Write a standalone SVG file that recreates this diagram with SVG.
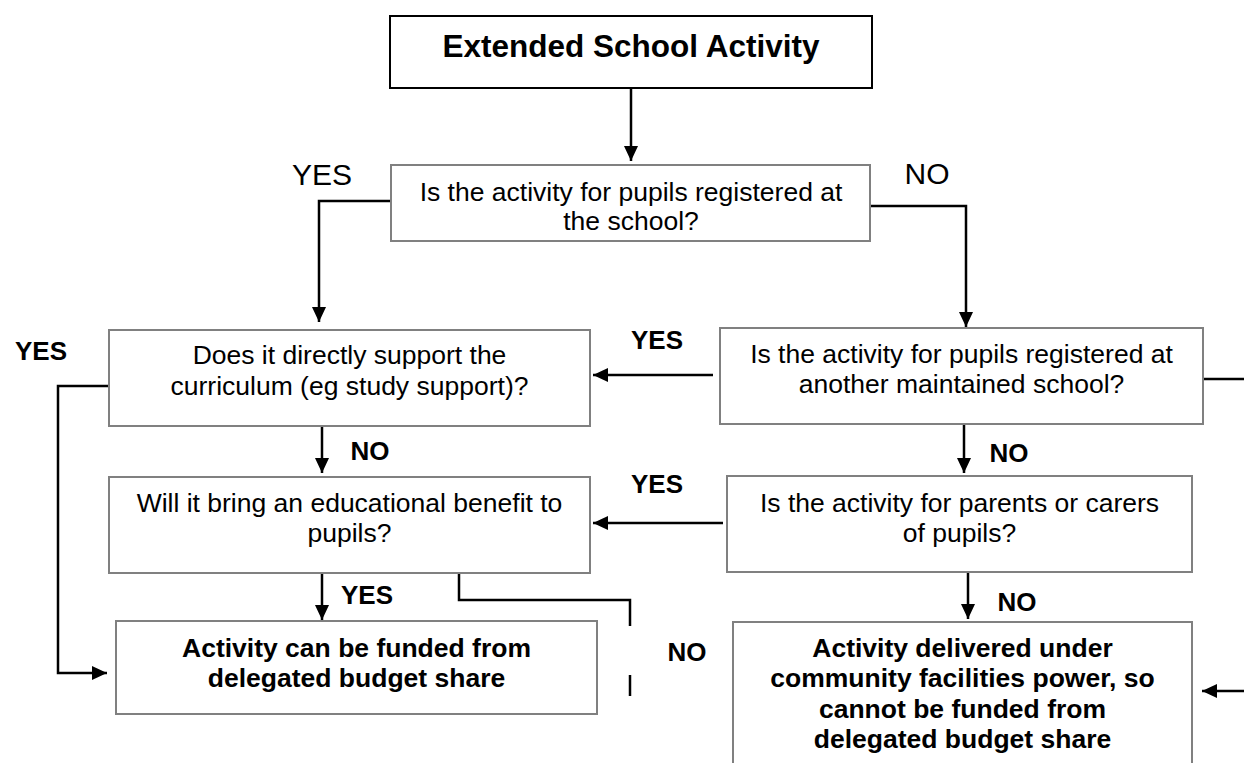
<svg xmlns="http://www.w3.org/2000/svg" width="1244" height="763" viewBox="0 0 1244 763">
<style>
.box{fill:#fff;stroke:#808080;stroke-width:2}
.top{fill:#fff;stroke:#000;stroke-width:2}
.q{font-family:"Liberation Sans",Arial,sans-serif;font-size:26.5px;fill:#000;text-anchor:middle}
.b{font-family:"Liberation Sans",Arial,sans-serif;font-size:26.5px;font-weight:bold;fill:#000;text-anchor:middle}
.t{font-family:"Liberation Sans",Arial,sans-serif;font-size:31.5px;font-weight:bold;fill:#000;text-anchor:middle}
.lr{font-family:"Liberation Sans",Arial,sans-serif;font-size:30px;fill:#000;text-anchor:middle}
.lb{font-family:"Liberation Sans",Arial,sans-serif;font-size:26px;font-weight:bold;fill:#000;text-anchor:middle}
.c{fill:none;stroke:#000;stroke-width:2.5}
</style>
<defs>
<marker id="ah" markerUnits="userSpaceOnUse" markerWidth="16" markerHeight="16" refX="15" refY="7" orient="auto">
<path d="M0,0 L15,7 L0,14 z" fill="#000"/>
</marker>
</defs>
<g id="connectors">
<line class="c" x1="631" y1="89" x2="631" y2="161" marker-end="url(#ah)"/>
<path class="c" d="M390,201 H319 V322" marker-end="url(#ah)"/>
<path class="c" d="M870,206 H966 V327" marker-end="url(#ah)"/>
<line class="c" x1="713" y1="375" x2="593" y2="375" marker-end="url(#ah)"/>
<line class="c" x1="1203" y1="379" x2="1244" y2="379"/>
<path class="c" d="M109,386 H58 V673 H107" marker-end="url(#ah)"/>
<line class="c" x1="322" y1="426" x2="322" y2="473" marker-end="url(#ah)"/>
<line class="c" x1="964" y1="424" x2="964" y2="473" marker-end="url(#ah)"/>
<line class="c" x1="723" y1="523" x2="593" y2="523" marker-end="url(#ah)"/>
<line class="c" x1="322" y1="573" x2="322" y2="620" marker-end="url(#ah)"/>
<path class="c" d="M459,573 V600 H630 V626"/>
<line class="c" x1="630" y1="675" x2="630" y2="696"/>
<line class="c" x1="968" y1="572" x2="968" y2="619" marker-end="url(#ah)"/>
<line class="c" x1="1244" y1="691" x2="1202" y2="691" marker-end="url(#ah)"/>
<text class="lr" x="322" y="185">YES</text>
<text class="lr" x="927" y="184">NO</text>
<text class="lb" x="41" y="360">YES</text>
<text class="lb" x="657" y="349">YES</text>
<text class="lb" x="370" y="460">NO</text>
<text class="lb" x="1009" y="462">NO</text>
<text class="lb" x="657" y="493">YES</text>
<text class="lb" x="367" y="604">YES</text>
<text class="lb" x="1017" y="611">NO</text>
<text class="lb" x="687" y="661">NO</text>
</g>
<g id="n-start">
<rect class="top" x="390" y="16" width="482" height="72"/>
<text class="t" x="631" y="57">Extended School Activity</text>
</g>
<g id="n-registered">
<rect class="box" x="391" y="165" width="479" height="76"/>
<text class="q" x="631" y="201">Is the activity for pupils registered at</text>
<text class="q" x="631" y="230">the school?</text>
</g>
<g id="n-curriculum">
<rect class="box" x="109" y="330" width="481" height="96"/>
<text class="q" x="349.5" y="364">Does it directly support the</text>
<text class="q" x="349.5" y="395">curriculum (eg study support)?</text>
</g>
<g id="n-another">
<rect class="box" x="720" y="328" width="483" height="96"/>
<text class="q" x="961.5" y="363">Is the activity for pupils registered at</text>
<text class="q" x="961.5" y="393">another maintained school?</text>
</g>
<g id="n-benefit">
<rect class="box" x="109" y="477" width="481" height="96"/>
<text class="q" x="349.5" y="512">Will it bring an educational benefit to</text>
<text class="q" x="349.5" y="542">pupils?</text>
</g>
<g id="n-parents">
<rect class="box" x="727" y="476" width="465" height="96"/>
<text class="q" x="959.5" y="512">Is the activity for parents or carers</text>
<text class="q" x="959.5" y="542">of pupils?</text>
</g>
<g id="n-funded">
<rect class="box" x="116" y="621" width="481" height="93"/>
<text class="b" x="356.5" y="657">Activity can be funded from</text>
<text class="b" x="356.5" y="687">delegated budget share</text>
</g>
<g id="n-community">
<rect class="box" x="733" y="622" width="459" height="150"/>
<text class="b" x="962.5" y="657">Activity delivered under</text>
<text class="b" x="962.5" y="687">community facilities power, so</text>
<text class="b" x="962.5" y="718">cannot be funded from</text>
<text class="b" x="962.5" y="748">delegated budget share</text>
</g>
</svg>
